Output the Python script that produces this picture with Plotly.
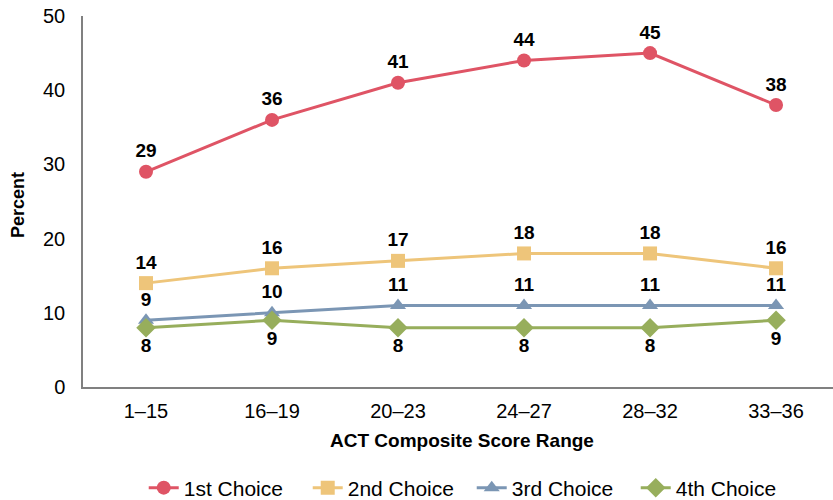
import plotly.graph_objects as go

categories = ["1–15", "16–19", "20–23", "24–27", "28–32", "33–36"]
first_choice = [29, 36, 41, 44, 45, 38]
second_choice = [14, 16, 17, 18, 18, 16]
third_choice = [9, 10, 11, 11, 11, 11]
fourth_choice = [8, 9, 8, 8, 8, 9]

series = [
    ("1st Choice", first_choice, "#DF5465", "circle", 14, "top center"),
    ("2nd Choice", second_choice, "#EEC57A", "square", 14, "top center"),
    ("3rd Choice", third_choice, "#7B96B4", "triangle-up", 14, "top center"),
    ("4th Choice", fourth_choice, "#97AE5C", "diamond", 15, "bottom center"),
]

FONT = "Liberation Sans, Arial, Helvetica, sans-serif"

fig = go.Figure()
for name, vals, color, sym, size, tpos in series:
    fig.add_trace(go.Scatter(
        x=categories, y=vals, name=name,
        mode="lines+markers+text",
        line=dict(color=color, width=3),
        marker=dict(symbol=sym, size=size, color=color),
        text=[str(v) for v in vals],
        textposition=tpos,
        textfont=dict(family=FONT, size=19, color="black", weight="bold"),
        cliponaxis=False,
    ))

fig.update_layout(
    width=833, height=500,
    margin=dict(l=83, r=0, t=16, b=113),
    plot_bgcolor="white", paper_bgcolor="white",
    font=dict(family=FONT, color="black"),
    showlegend=True,
    legend=dict(
        orientation="h", xref="container", yref="container",
        x=0.5663, xanchor="center", y=1 - 488 / 500, yanchor="middle",
        font=dict(family=FONT, size=21, color="black"),
        tracegroupgap=0, entrywidth=119, entrywidthmode="pixels",
    ),
    xaxis=dict(
        type="category", range=[-0.5, 5.452], automargin=False,
        showline=True, linecolor="#808080", linewidth=1.5,
        showgrid=False, zeroline=False,
        ticks="outside", ticklen=5, tickcolor="rgba(0,0,0,0)",
        tickfont=dict(family=FONT, size=20, color="black"),
        ticklabeloverflow="allow",
    ),
    yaxis=dict(
        range=[0, 50], tickvals=[0, 10, 20, 30, 40, 50], automargin=False,
        showline=True, linecolor="#808080", linewidth=1.5,
        showgrid=False, zeroline=False,
        ticks="outside", ticklen=12, tickcolor="rgba(0,0,0,0)",
        tickfont=dict(family=FONT, size=20, color="black"),
        ticklabeloverflow="allow",
    ),
    annotations=[
        dict(text="ACT Composite Score Range", xref="paper", yref="paper",
             x=0.505, y=(387 - 440) / 371, xanchor="center", yanchor="middle",
             showarrow=False,
             font=dict(family=FONT, size=19, color="black", weight="bold")),
        dict(text="Percent", xref="paper", yref="paper",
             x=(18 - 83) / 750, y=(387 - 205) / 371, xanchor="center", yanchor="middle",
             textangle=-90, showarrow=False,
             font=dict(family=FONT, size=18, color="black", weight="bold")),
    ],
)

fig.write_html("out.html", config={"displayModeBar": False},
               post_script="document.body.style.margin='0';")
